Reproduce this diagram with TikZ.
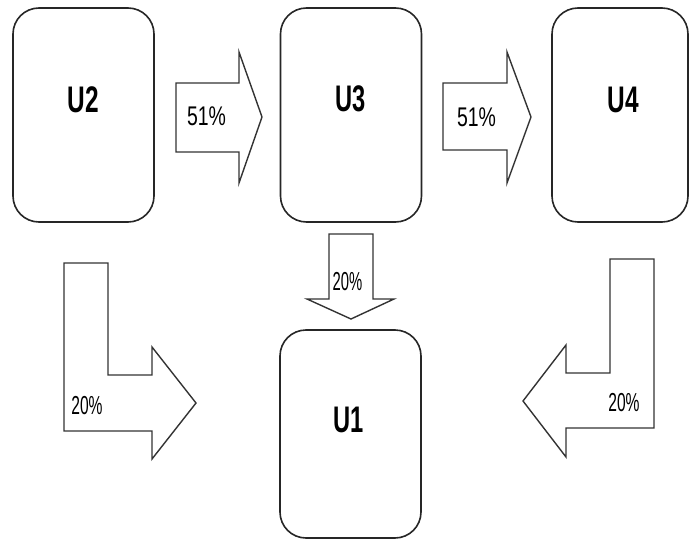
\documentclass[tikz,border=0pt]{standalone}
\usepackage{fontspec}
\setmainfont{Liberation Sans}
\usepackage{graphicx}
\begin{document}
\begin{tikzpicture}[x=1pt,y=-1pt,
  ubox/.style={draw=black!85, line width=1.6pt, rounded corners=26pt, minimum width=141pt, minimum height=214pt, inner sep=0pt},
  ulabel/.style={font=\fontsize{37}{37}\selectfont\bfseries, inner sep=0pt},
  blockarrow/.style={draw=black!80, line width=1.4pt, fill=white, line join=miter},
  pct/.style={font=\fontsize{27}{27}\selectfont, inner sep=0pt},
  spct/.style={font=\fontsize{26}{26}\selectfont, inner sep=0pt}]
\useasboundingbox (0,0) rectangle (689,541);
% boxes
\node[ubox] (U2) at (83.5,115) {};
\node[ubox] (U3) at (351,115) {};
\node[ubox, minimum width=136pt] (U4) at (620,115) {};
\node[ubox, minimum height=208pt] (U1) at (350.5,434) {};
\node[ulabel] (tU2) at (83,100) {\scalebox{0.66}[1]{U2}};
\node[ulabel] (tU3) at (351,99) {\scalebox{0.64}[1]{U3}};
\node[ulabel] (tU4) at (623,100) {\scalebox{0.66}[1]{U4}};
\node[ulabel] (tU1) at (349,420) {\scalebox{0.64}[1]{U1}};
% block arrows
\draw[blockarrow] (176,83) -- (239,83) -- (239,52) -- (262,117) -- (239,183) -- (239,152) -- (176,152) -- cycle;
\draw[blockarrow] (443,83) -- (507,83) -- (507,52) -- (531,117) -- (507,183) -- (507,150) -- (443,150) -- cycle;
\draw[blockarrow] (329,234) -- (373,234) -- (373,299) -- (394,299) -- (351,319) -- (307,299) -- (329,299) -- cycle;
\draw[blockarrow] (64,263) -- (108,263) -- (108,375) -- (152,375) -- (152,347) -- (196,403) -- (152,459) -- (152,431) -- (64,431) -- cycle;
\draw[blockarrow] (654,259) -- (610,259) -- (610,373) -- (566,373) -- (566,345) -- (523,401) -- (566,457) -- (566,428) -- (654,428) -- cycle;
% labels
\node[pct] (p1) at (206.5,116.5) {\scalebox{0.72}[1]{51\%}};
\node[pct] (p2) at (476.5,117) {\scalebox{0.72}[1]{51\%}};
\node[spct] (p3) at (347.5,282) {\scalebox{0.57}[1]{20\%}};
\node[spct] (p4) at (87,406) {\scalebox{0.6}[1]{20\%}};
\node[spct] (p5) at (624,402.5) {\scalebox{0.6}[1]{20\%}};
\end{tikzpicture}
\end{document}
